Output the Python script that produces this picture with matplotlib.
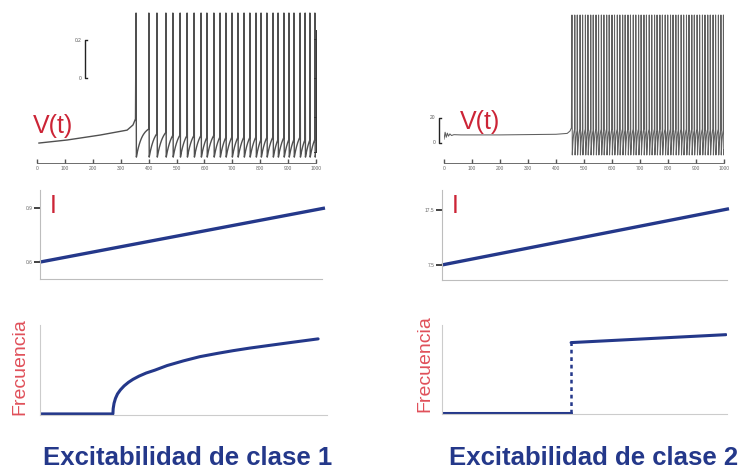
import numpy as np
from matplotlib import pyplot as plt

plt.rcParams['font.family'] = ['Liberation Sans', 'DejaVu Sans']

W, H = 745, 475

NAVY = "#24388a"
RED = "#cc2436"
PINK = "#e0505a"
SPINE = "#bdbdbd"

# --- clase 1: membrane trace (spike times in ms) ---
base1_t = [7, 108, 226, 323, 344, 353]
base1_v = [-0.342, -0.326, -0.300, -0.274, -0.247, -0.215]
spikes1 = [355, 401, 430, 462, 487, 513, 538, 563, 588, 609, 634, 656, 677, 699,
           720, 742, 763, 785, 803, 824, 846, 864, 885, 903, 921, 943, 961, 978, 996]
peak1, trough1, thr1, tau1 = 0.342, -0.416, -0.25, 20.0

# --- clase 2: membrane trace ---
base2_t = [0, 4, 8, 12, 16, 21, 27, 35, 60, 200, 400, 440, 450, 455]
base2_v = [3.0, 8.5, 4.5, 7.8, 5.4, 7.2, 5.9, 6.6, 6.4, 6.4, 6.9, 7.6, 9.5, 12.0]
spikes2 = [457, 467, 476, 486, 495, 505, 514, 524, 533, 543, 552, 562, 571, 581,
           590, 600, 609, 619, 628, 638, 647, 657, 666, 676, 685, 695, 704, 714,
           723, 733, 742, 752, 761, 771, 780, 790, 799, 809, 818, 828, 837, 847,
           856, 866, 875, 885, 894, 904, 913, 923, 932, 942, 951, 961, 970, 980,
           989, 998]
peak2, trough2, thr2, tau2 = 102.0, -9.6, 14.0, 4.0

# --- corriente aplicada (rampa) ---
t_ramp = [0, 1000]
I1 = [0.6, 0.9]
I2 = [7.5, 17.7]

# --- curvas frecuencia-corriente ---
fi1_x = [0.0, 0.254, 0.255, 0.258, 0.263, 0.270, 0.280, 0.293, 0.308, 0.324,
         0.345, 0.370, 0.400, 0.443, 0.500, 0.557, 0.620, 0.672, 0.730, 0.791,
         0.880, 0.969]
fi1_y = [0.0, 0.0, 0.06, 0.12, 0.175, 0.225, 0.27, 0.315, 0.355, 0.389,
         0.425, 0.46, 0.492, 0.544, 0.597, 0.644, 0.682, 0.711, 0.740, 0.767,
         0.806, 0.844]
fi2_off_x = [0.0, 0.453]
fi2_off_y = [0.0, 0.0]
fi2_on_x = [0.453, 0.996]
fi2_on_y = [0.80, 0.89]


def box(x0, y0, x1, y1):
    return [x0 / W, 1 - y1 / H, (x1 - x0) / W, (y1 - y0) / H]


def build_trace(bt, bv, spikes, peak, trough, thr, tau, t_end=1000):
    t = list(bt)
    v = list(bv)
    for i, ts in enumerate(spikes):
        t += [ts, ts + 1.2]
        v += [peak, trough]
        nxt = spikes[i + 1] - 0.6 if i + 1 < len(spikes) else t_end
        seg = np.linspace(ts + 1.2, nxt, 25)[1:]
        t += list(seg)
        v += list(trough + (thr - trough) * (1 - np.exp(-(seg - ts - 1.2) / tau)))
    return np.array(t), np.array(v)


def time_axis(ax):
    for s in ["top", "right", "left"]:
        ax.spines[s].set_visible(False)
    ax.spines["bottom"].set_color("#555555")
    ax.spines["bottom"].set_linewidth(0.6)
    ax.set_xticks(range(0, 1001, 100))
    ax.set_yticks([])
    ax.tick_params(axis="x", direction="in", length=3, width=1.0, color="#555555",
                   labelsize=3.5, labelcolor="#666666", pad=2)
    ax.patch.set_alpha(0)


fig = plt.figure(figsize=(W / 100, H / 100), dpi=100)

# top-left: clase 1 voltage
ax = fig.add_axes(box(37, 10, 316, 163))
t, v = build_trace(base1_t, base1_v, spikes1, peak1, trough1, thr1, tau1)
ax.plot(t, v, color="#505050", lw=1.0)
ax.set_xlim(0, 1000)
ax.set_ylim(-0.447, 0.358)
time_axis(ax)
ax.plot([178, 172, 172, 178], [0.2, 0.2, 0, 0], color="#222222", lw=1.0, clip_on=False)
ax.text(160, 0.2, "0.2", fontsize=3.5, color="#555555", ha="right", va="center")
ax.text(160, 0.0, "0", fontsize=3.5, color="#555555", ha="right", va="center")
ax.plot([1000, 1000], [0.253, -0.389], color="#333333", lw=0.7, clip_on=False)
for yt in [0.205, 0.0, -0.205, -0.389]:
    ax.plot([993, 1000], [yt, yt], color="#333333", lw=0.7, clip_on=False)
ax.text(-14, -0.25, "V(t)", fontsize=18, color=RED, ha="left", va="center")

# top-right: clase 2 voltage
ax = fig.add_axes(box(444, 10, 724, 163))
t, v = build_trace(base2_t, base2_v, spikes2, peak2, trough2, thr2, tau2)
ax.plot(t, v, color="#606060", lw=0.75)
ax.set_xlim(0, 1000)
ax.set_ylim(-16, 106)
time_axis(ax)
ax.plot([-12, -18, -18, -12], [20, 20, 0, 0], color="#222222", lw=1.0, clip_on=False)
ax.text(-30, 20, "20", fontsize=3.5, color="#555555", ha="right", va="center")
ax.text(-30, 0, "0", fontsize=3.5, color="#555555", ha="right", va="center")
ax.text(58, 17, "V(t)", fontsize=18, color=RED, ha="left", va="center")

# middle: current ramps
for bx, I, yl, ticks, labels, xr in [
        ((40, 190, 322, 279), I1, (0.506, 1.0), [0.6, 0.9], ["0.6", "0.9"], 989.5),
        ((442, 190, 727, 280), I2, (4.77, 21.1), [7.5, 17.5], ["7.5", "17.5"], 993)]:
    ax = fig.add_axes(box(*bx))
    ax.plot(t_ramp, I, color=NAVY, lw=2.4, clip_on=False, solid_capstyle="butt")
    ax.set_xlim(0, xr)
    ax.set_ylim(*yl)
    for s in ["top", "right"]:
        ax.spines[s].set_visible(False)
    for s in ["left", "bottom"]:
        ax.spines[s].set_color(SPINE)
        ax.spines[s].set_linewidth(0.8)
    ax.set_xticks([])
    ax.set_yticks(ticks)
    ax.set_yticklabels(labels)
    ax.tick_params(axis="y", direction="out", length=4, width=1.2, color="#222222",
                   labelsize=3.5, labelcolor="#666666", pad=1.5)
    ax.text(0.045, 0.82, "I", transform=ax.transAxes, fontsize=18, color=RED,
            ha="center", va="center")

# bottom: frequency vs current
ax1 = fig.add_axes(box(40, 325, 327, 415))
ax1.plot(fi1_x, fi1_y, color=NAVY, lw=2.2, solid_capstyle="round")
ax2 = fig.add_axes(box(442, 325, 727, 414))
ax2.plot(fi2_off_x, fi2_off_y, color=NAVY, lw=2.2, solid_capstyle="round")
ax2.plot([fi2_on_x[0], fi2_on_x[0]], [fi2_off_y[-1], fi2_on_y[0]], color=NAVY,
         lw=1.8, linestyle=(0, (1.5, 1.5)))
ax2.plot(fi2_on_x, fi2_on_y, color=NAVY, lw=2.2, solid_capstyle="round")
for ax in (ax1, ax2):
    ax.set_xlim(0, 1)
    ax.set_ylim(-0.012, 1)
    ax.set_xticks([])
    ax.set_yticks([])
    for s in ["top", "right"]:
        ax.spines[s].set_visible(False)
    for s in ["left", "bottom"]:
        ax.spines[s].set_color("#cccccc")
        ax.spines[s].set_linewidth(0.8)
    ax.patch.set_alpha(0)

fig.text(20 / W, 1 - 367 / H, "Frecuencia", rotation=90, fontsize=14, color=PINK,
         ha="center", va="center")
fig.text(425 / W, 1 - 364 / H, "Frecuencia", rotation=90, fontsize=14, color=PINK,
         ha="center", va="center")

fig.text(188 / W, 1 - 458 / H, "Excitabilidad de clase 1", fontsize=18.5,
         fontweight="bold", color=NAVY, ha="center", va="center")
fig.text(594 / W, 1 - 458 / H, "Excitabilidad de clase 2", fontsize=18.5,
         fontweight="bold", color=NAVY, ha="center", va="center")

fig.savefig("out.png", dpi=100)
